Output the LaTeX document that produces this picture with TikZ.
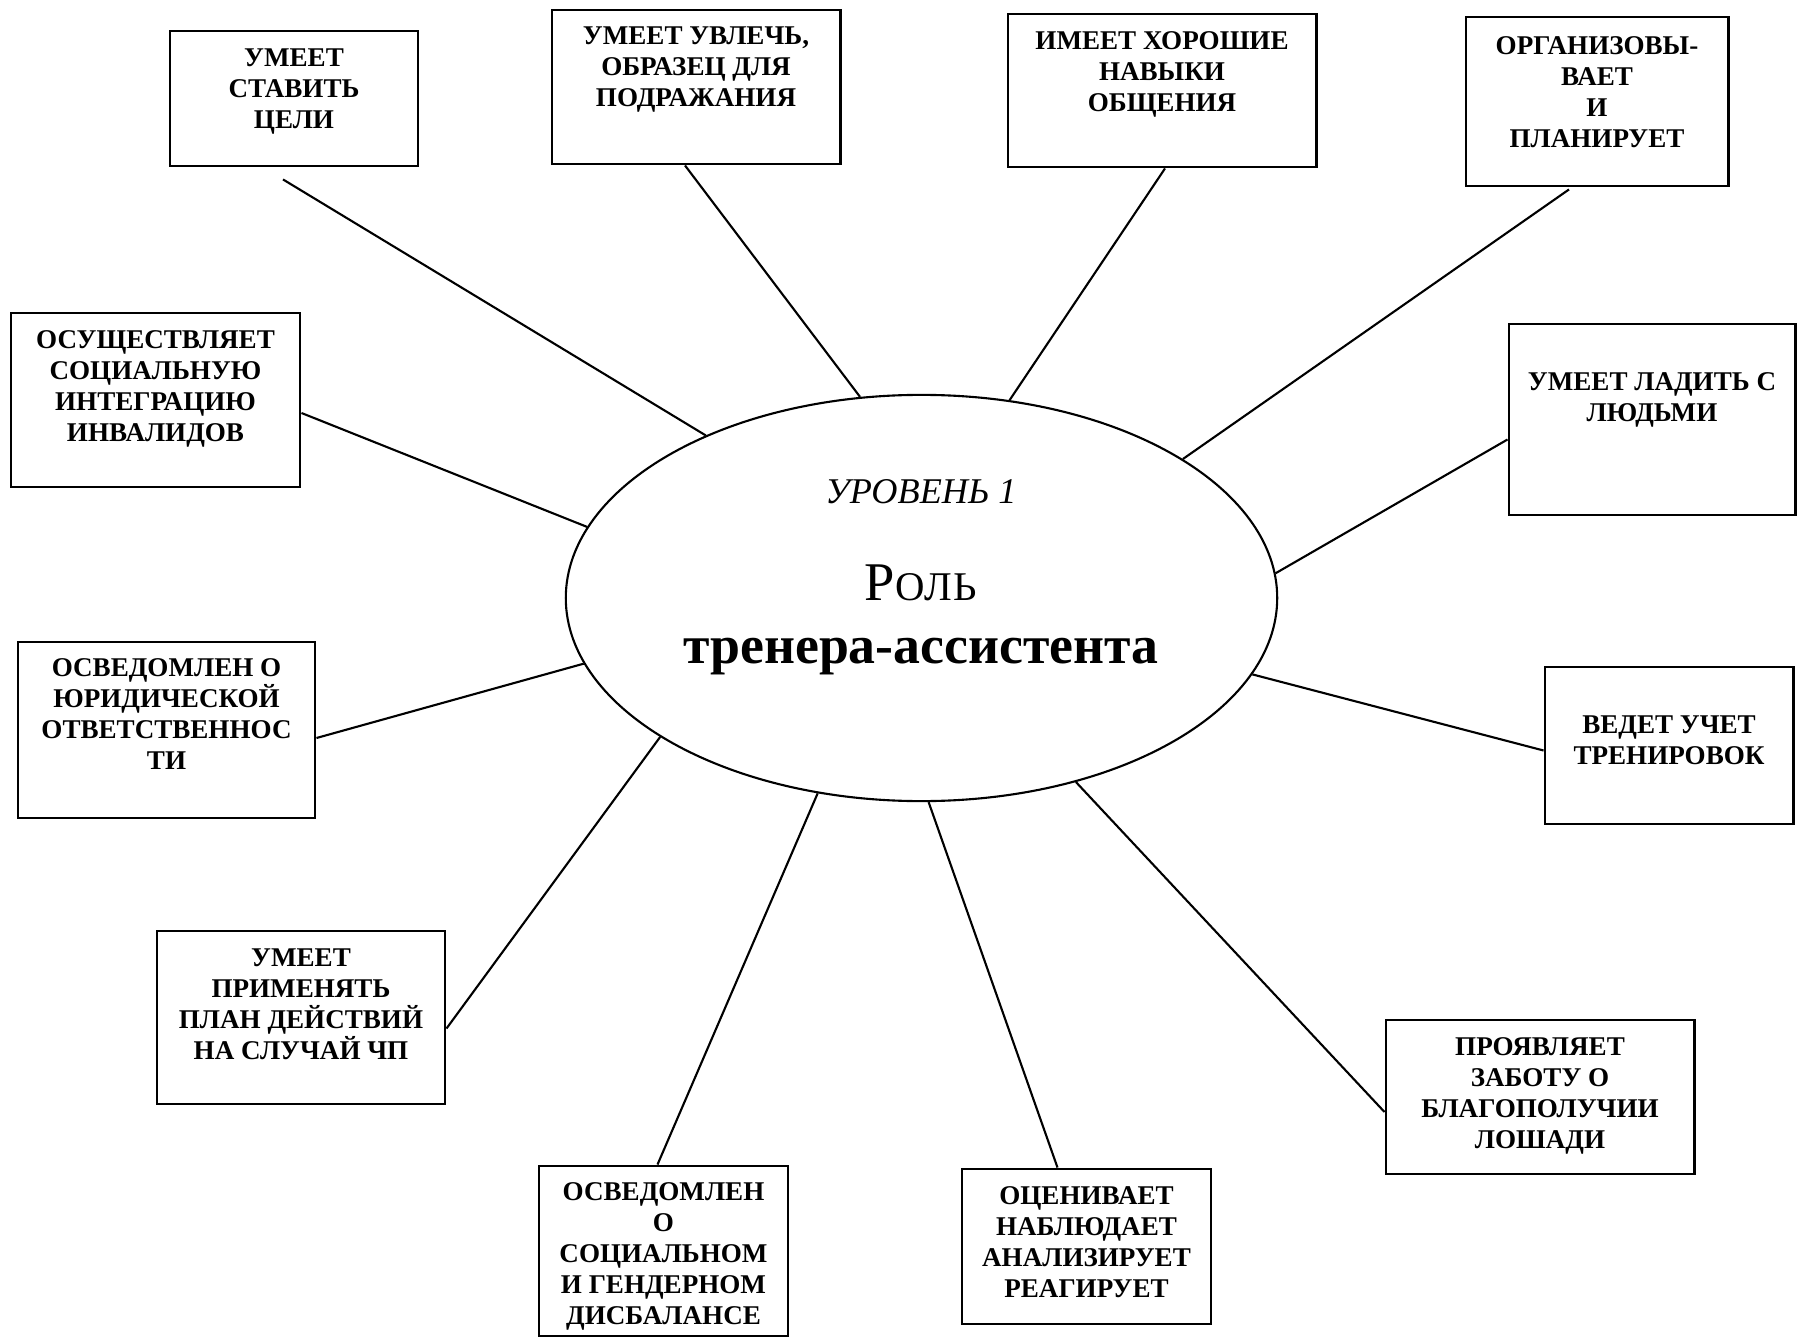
\documentclass[tikz,border=0pt]{standalone}
\usepackage{fontspec}
\setmainfont{Liberation Serif}
\usetikzlibrary{shapes.geometric,calc}
\newcommand{\boxtext}[4]{\parbox[c][#2][t]{#1}{\centering\vspace*{#3}#4\par}}
\tikzset{
  boxst/.style={draw, line width=0.8pt, inner sep=0pt, font=\bfseries\fontsize{7.7pt}{8.8pt}\selectfont},
  conn/.style={draw, line width=0.6pt},
  ellst/.style={draw, ellipse, line width=0.6pt, inner sep=0pt, minimum width=7.11cm, minimum height=4.06cm}
}
\begin{document}
\begin{tikzpicture}[x=0.01cm, y=-0.01cm]
\useasboundingbox (0,0) rectangle (1797,1343);

\node[ellst] (ell) at (921.5,598) {};
\node[anchor=base, font=\itshape\fontsize{10.3pt}{12pt}\selectfont] (lvl) at (921,503) {УРОВЕНЬ 1};
\node[anchor=base, font=\fontsize{15.5pt}{17pt}\selectfont] (role) at (921,600) {Р{\fontsize{11.6pt}{13pt}\selectfont\addfontfeature{LetterSpace=4}ОЛЬ}};
\node[anchor=base, font=\bfseries\fontsize{15.3pt}{17pt}\selectfont] (tr) at (921,663) {тренера-ассистента};

\node[boxst] (b1) at (294,98.5) {\boxtext{24.8mm}{13.5mm}{1.8mm}{УМЕЕТ\\СТАВИТЬ\\ЦЕЛИ}};
\node[boxst] (b2) at (696,87) {\boxtext{28.8mm}{15.4mm}{1.7mm}{УМЕЕТ УВЛЕЧЬ,\\ОБРАЗЕЦ ДЛЯ\\ПОДРАЖАНИЯ}};
\node[boxst] (b3) at (1162,90.5) {\boxtext{30.8mm}{15.3mm}{1.8mm}{ИМЕЕТ ХОРОШИЕ\\НАВЫКИ\\ОБЩЕНИЯ}};
\node[boxst] (b4) at (1597,101.5) {\boxtext{26.2mm}{16.9mm}{2.0mm}{ОРГАНИЗОВЫ-\\ВАЕТ\\И\\ПЛАНИРУЕТ}};
\node[boxst] (b5) at (155.5,400) {\boxtext{28.9mm}{17.4mm}{1.8mm}{ОСУЩЕСТВЛЯЕТ\\СОЦИАЛЬНУЮ\\ИНТЕГРАЦИЮ\\ИНВАЛИДОВ}};
\node[boxst] (b6) at (1652,419.5) {\boxtext{28.6mm}{19.1mm}{4.9mm}{УМЕЕТ ЛАДИТЬ С\\ЛЮДЬМИ}};
\node[boxst] (b7) at (166.5,730) {\boxtext{29.7mm}{17.6mm}{1.7mm}{ОСВЕДОМЛЕН О\\ЮРИДИЧЕСКОЙ\\ОТВЕТСТВЕННОС\\ТИ}};
\node[boxst] (b8) at (1669,745.5) {\boxtext{24.8mm}{15.7mm}{4.9mm}{ВЕДЕТ УЧЕТ\\ТРЕНИРОВОК}};
\node[boxst] (b9) at (301,1017.5) {\boxtext{28.8mm}{17.3mm}{1.8mm}{УМЕЕТ\\ПРИМЕНЯТЬ\\ПЛАН ДЕЙСТВИЙ\\НА СЛУЧАЙ ЧП}};
\node[boxst] (b10) at (663.5,1251) {\boxtext{24.9mm}{17.0mm}{1.7mm}{ОСВЕДОМЛЕН\\О\\СОЦИАЛЬНОМ\\И ГЕНДЕРНОМ\\ДИСБАЛАНСЕ}};
\node[boxst] (b11) at (1086.5,1246.5) {\boxtext{24.9mm}{15.5mm}{1.8mm}{ОЦЕНИВАЕТ\\НАБЛЮДАЕТ\\АНАЛИЗИРУЕТ\\РЕАГИРУЕТ}};
\node[boxst] (b12) at (1540,1097) {\boxtext{30.8mm}{15.4mm}{1.8mm}{ПРОЯВЛЯЕТ\\ЗАБОТУ О\\БЛАГОПОЛУЧИИ\\ЛОШАДИ}};

\draw[conn] ($(b1.south)+(-11,12)$) -- (ell.143.1);
\draw[conn] ($(b2.south)+(-11,0)$) -- (ell.107.9);
\draw[conn] ($(b3.south)+(3,0)$) -- (ell.66.2);
\draw[conn] ($(b4.south)+(-28,2)$) -- (ell.28.5);
\draw[conn] ($(b5.east)+(0,13)$) -- (ell.168.2);
\draw[conn] ($(b6.west)+(0,20)$) -- (ell.4.0);
\draw[conn] ($(b7.east)+(0,8)$) -- (ell.191.3);
\draw[conn] ($(b8.west)+(0,5)$) -- (ell.347.6);
\draw[conn] ($(b9.east)+(0,11)$) -- (ell.208.8);
\draw[conn] ($(b10.north)+(-6,0)$) -- (ell.242.1);
\draw[conn] ($(b11.north)+(-29,0)$) -- (ell.272.1);
\draw[conn] ($(b12.west)+(0,15)$) -- (ell.310.8);
\end{tikzpicture}
\end{document}
